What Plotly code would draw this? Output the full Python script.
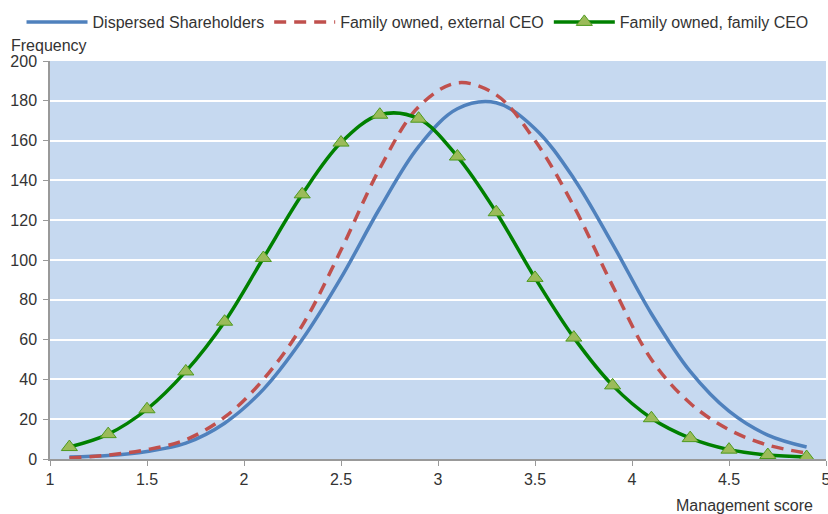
import plotly.graph_objects as go

x_scores = [1.1, 1.3, 1.5, 1.7, 1.9, 2.1, 2.3, 2.5, 2.7, 2.9, 3.1, 3.3, 3.5, 3.7, 3.9, 4.1, 4.3, 4.5, 4.7, 4.9]
dispersed = [1, 1.7, 3.8, 8, 18, 35, 60, 91, 126, 157, 176, 179, 166, 141, 108, 73, 44, 24, 12, 6]
family_external = [0.5, 2, 4.7, 9.7, 21, 40, 67, 105, 146, 177, 189, 183, 160, 127, 87, 50, 28, 14.7, 7, 3]
family_family = [6, 12.5, 25, 44, 69, 101, 133, 159, 173, 171, 152, 124, 91, 61, 37, 20.5, 10.5, 4.7, 2, 1]

series_names = ["Dispersed Shareholders", "Family owned, external CEO", "Family owned, family CEO"]
y_axis_title = "Frequency"
x_axis_title = "Management score"

FONT = "Liberation Sans, Arial, sans-serif"
FS = 16
TXT = "#333333"

fig = go.Figure()
fig.add_trace(go.Scatter(
    x=x_scores, y=dispersed, name=series_names[0], mode="lines",
    line=dict(color="#4F81BD", width=3.5, shape="spline", smoothing=1.0),
))
fig.add_trace(go.Scatter(
    x=x_scores, y=family_external, name=series_names[1], mode="lines",
    line=dict(color="#C0504D", width=3.5, dash="12px,8px", shape="spline", smoothing=1.0),
))
fig.add_trace(go.Scatter(
    x=x_scores, y=family_family, name=series_names[2], mode="lines+markers",
    line=dict(color="#008000", width=3.5, shape="spline", smoothing=1.0),
    marker=dict(symbol="triangle-up", size=14, color="#9BBB59",
                line=dict(color="#4E9A1E", width=1)),
))

fig.update_layout(
    width=836, height=514,
    margin=dict(l=50, r=10, t=61, b=55, autoexpand=False),
    paper_bgcolor="white",
    plot_bgcolor="#C6D9F0",
    font=dict(family=FONT, size=FS, color=TXT),
    showlegend=True,
    legend=dict(orientation="h", x=-0.0367, xanchor="left", y=1.098, yanchor="middle",
                itemwidth=61,
                font=dict(family=FONT, size=FS, color=TXT),
                bgcolor="rgba(0,0,0,0)", tracegroupgap=0),
    xaxis=dict(range=[1, 5], tick0=1, dtick=0.5,
               showgrid=False, zeroline=False, showline=True, linecolor="#999999",
               linewidth=1.5, ticks="outside", ticklen=5, tickcolor="#999999",
               tickfont=dict(family=FONT, size=FS, color=TXT)),
    yaxis=dict(range=[0, 200], tick0=0, dtick=20,
               showgrid=True, gridcolor="white", gridwidth=1.5, zeroline=False,
               showline=True, linecolor="#999999", linewidth=1.5,
               ticks="outside", ticklen=5, tickcolor="#999999",
               ticklabelstandoff=3,
               tickfont=dict(family=FONT, size=FS, color=TXT)),
    annotations=[
        dict(text=y_axis_title, xref="paper", yref="paper", x=-0.053, y=1.04,
             xanchor="left", yanchor="middle", showarrow=False,
             font=dict(family=FONT, size=FS, color=TXT)),
        dict(text=x_axis_title, xref="paper", yref="paper", x=0.9858, y=-0.118,
             xanchor="right", yanchor="middle", showarrow=False,
             font=dict(family=FONT, size=FS, color=TXT)),
    ],
)

fig.write_html("out.html",
               config={"displayModeBar": False},
               post_script="document.body.style.margin='0';document.body.style.overflow='hidden';")
